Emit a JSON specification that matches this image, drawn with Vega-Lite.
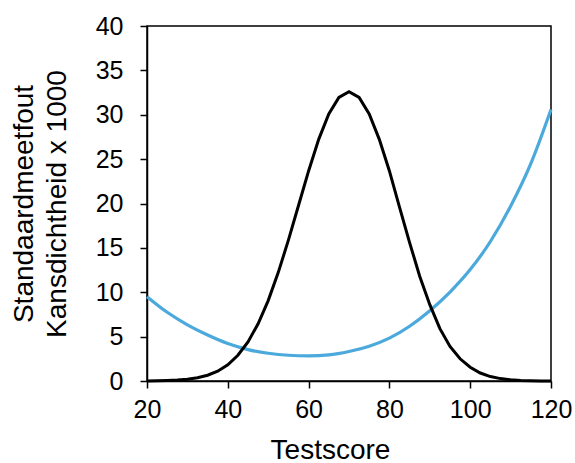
{
  "$schema": "https://vega.github.io/schema/vega-lite/v6.json",
  "width": 404,
  "height": 355,
  "autosize": {"type": "none"},
  "padding": {"left": 147, "top": 26, "right": 24, "bottom": 82},
  "background": "white",
  "config": {
    "view": {"stroke": "black", "strokeWidth": 1.5},
    "font": "Liberation Sans"
  },
  "datasets": {
    "sem": [
      {"score": 20, "value": 9.5},
      {"score": 25, "value": 7.74},
      {"score": 30, "value": 6.33},
      {"score": 35, "value": 5.18},
      {"score": 40, "value": 4.22},
      {"score": 45, "value": 3.54},
      {"score": 50, "value": 3.13},
      {"score": 55, "value": 2.9},
      {"score": 60, "value": 2.83},
      {"score": 65, "value": 2.94},
      {"score": 70, "value": 3.32},
      {"score": 75, "value": 3.92},
      {"score": 80, "value": 4.83},
      {"score": 85, "value": 6.17},
      {"score": 90, "value": 7.92},
      {"score": 95, "value": 10.02},
      {"score": 100, "value": 12.55},
      {"score": 105, "value": 15.72},
      {"score": 110, "value": 19.7},
      {"score": 115, "value": 24.5},
      {"score": 120, "value": 30.6}
    ],
    "density": [
      {"score": 20, "value": 0.01},
      {"score": 22.5, "value": 0.02},
      {"score": 25, "value": 0.05},
      {"score": 27.5, "value": 0.1},
      {"score": 30, "value": 0.19},
      {"score": 32.5, "value": 0.36},
      {"score": 35, "value": 0.65},
      {"score": 37.5, "value": 1.11},
      {"score": 40, "value": 1.83},
      {"score": 42.5, "value": 2.9},
      {"score": 45, "value": 4.41},
      {"score": 47.5, "value": 6.45},
      {"score": 50, "value": 9.06},
      {"score": 52.5, "value": 12.24},
      {"score": 55, "value": 15.87},
      {"score": 57.5, "value": 19.77},
      {"score": 60, "value": 23.67},
      {"score": 62.5, "value": 27.23},
      {"score": 65, "value": 30.09},
      {"score": 67.5, "value": 31.95},
      {"score": 70, "value": 32.6},
      {"score": 72.5, "value": 31.95},
      {"score": 75, "value": 30.09},
      {"score": 77.5, "value": 27.23},
      {"score": 80, "value": 23.67},
      {"score": 82.5, "value": 19.6},
      {"score": 85, "value": 15.6},
      {"score": 87.5, "value": 11.8},
      {"score": 90, "value": 8.6},
      {"score": 92.5, "value": 5.9},
      {"score": 95, "value": 3.9},
      {"score": 97.5, "value": 2.5},
      {"score": 100, "value": 1.55},
      {"score": 102.5, "value": 0.9},
      {"score": 105, "value": 0.5},
      {"score": 107.5, "value": 0.27},
      {"score": 110, "value": 0.14},
      {"score": 112.5, "value": 0.07},
      {"score": 115, "value": 0.03},
      {"score": 117.5, "value": 0.01},
      {"score": 120, "value": 0.01}
    ]
  },
  "encoding": {
    "x": {
      "field": "score",
      "type": "quantitative",
      "scale": {"domain": [20, 120], "nice": false, "zero": false},
      "axis": {
        "values": [20, 40, 60, 80, 100, 120],
        "grid": false,
        "domainColor": "black",
        "domainWidth": 1.5,
        "tickColor": "black",
        "tickWidth": 1.5,
        "tickSize": 7,
        "labelFontSize": 25,
        "labelColor": "black",
        "labelPadding": 9,
        "labelFlush": false,
        "title": "Testscore",
        "titleFontSize": 28,
        "titleFontWeight": "normal",
        "titleColor": "black",
        "titleX": 183,
        "titleY": 77,
        "titleBaseline": "alphabetic",
        "titleAlign": "center"
      }
    },
    "y": {
      "field": "value",
      "type": "quantitative",
      "scale": {"domain": [0, 40], "nice": false},
      "axis": {
        "values": [0, 5, 10, 15, 20, 25, 30, 35, 40],
        "grid": false,
        "domainColor": "black",
        "domainWidth": 1.5,
        "tickColor": "black",
        "tickWidth": 1.5,
        "tickSize": 7,
        "labelFontSize": 25,
        "labelColor": "black",
        "labelPadding": 17,
        "labelFlush": false,
        "title": ["Standaardmeetfout", "Kansdichtheid x 1000"],
        "titleFontSize": 28,
        "titleFontWeight": "normal",
        "titleColor": "black",
        "titleLineHeight": 33,
        "titleAngle": -90,
        "titleX": -123,
        "titleY": 177.5,
        "titleBaseline": "middle",
        "titleAlign": "center"
      }
    }
  },
  "layer": [
    {
      "data": {"name": "sem"},
      "mark": {"type": "line", "color": "#4BA9DC", "strokeWidth": 3.2, "interpolate": "monotone"}
    },
    {
      "data": {"name": "density"},
      "mark": {"type": "line", "color": "black", "strokeWidth": 3}
    }
  ]
}
